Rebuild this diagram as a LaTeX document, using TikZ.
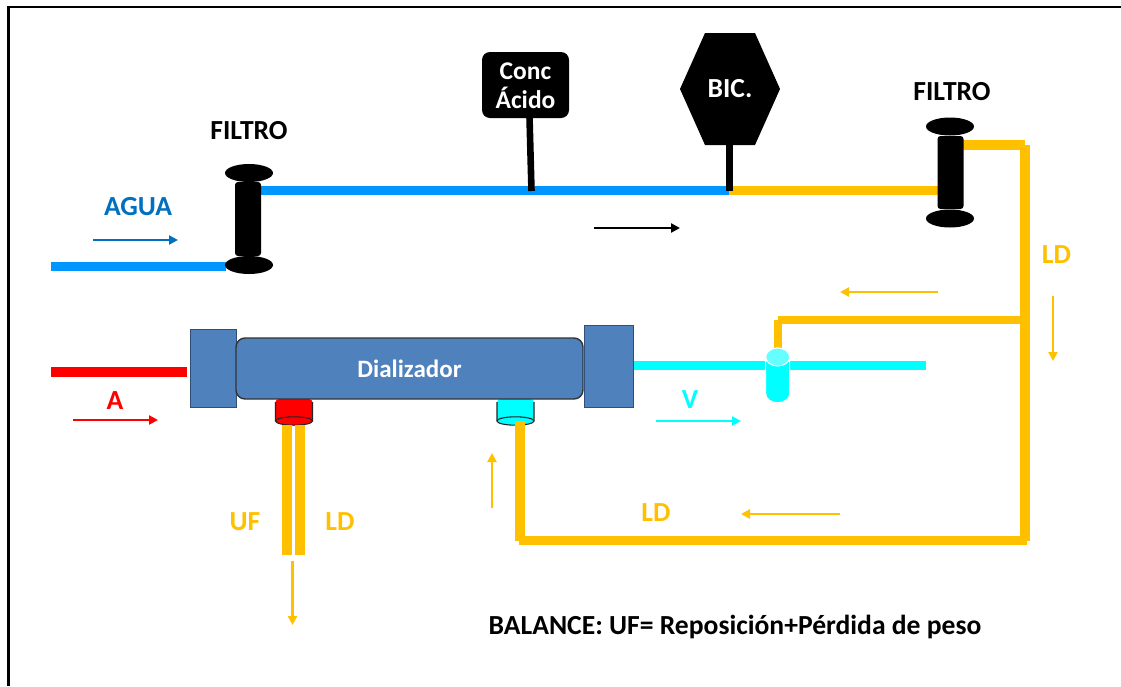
\documentclass[tikz,border=0pt]{standalone}
\usepackage{fontspec}
\setmainfont{Carlito}
\usetikzlibrary{arrows.meta,shapes.geometric}
\definecolor{pipeblue}{HTML}{0096FF}
\definecolor{pipegold}{HTML}{FFC000}
\definecolor{labelblue}{HTML}{0070C0}
\definecolor{dialblue}{HTML}{4F81BD}
\definecolor{dialedge}{HTML}{2F4F78}
\definecolor{pipecyan}{HTML}{00FFFF}
\definecolor{capcyan}{HTML}{66FFFF}
\definecolor{purered}{HTML}{FF0000}
\tikzset{
  pipe/.style={line width=9.4pt,line cap=butt,line join=miter},
  flow/.style={line width=2.5pt,-{Triangle[length=9pt,width=9pt]}},
  lbl/.style={inner sep=0pt,font=\fontsize{27.6}{30}\selectfont\bfseries},
  endcap/.style={ellipse,fill=black,draw=none,minimum width=48pt,minimum height=18pt,inner sep=0pt},
  filterbody/.style={rectangle,rounded corners=3pt,fill=black,draw=none,minimum width=26pt,minimum height=74pt,inner sep=0pt},
  block/.style={rectangle,fill=dialblue,draw=dialedge,line width=1pt,inner sep=0pt},
  port/.style={draw=black!85,line width=1.1pt},
}
\newcommand{\portcyl}[2]{% centre x, fill colour
  \fill[#2] (#1-18.5,402) -- (#1-18.5,421) arc[start angle=180,end angle=0,x radius=18.5,y radius=4.2] -- (#1+18.5,402) arc[start angle=0,end angle=-90,x radius=4,y radius=3] -- (#1-14.5,399) arc[start angle=-90,end angle=-180,x radius=4,y radius=3] -- cycle;
  \draw[port] (#1-18.5,402) -- (#1-18.5,421) arc[start angle=180,end angle=0,x radius=18.5,y radius=4.2] -- (#1+18.5,402);
  \draw[port] (#1-18.5,421) arc[start angle=180,end angle=360,x radius=18.5,y radius=4.2];
}
\begin{document}
\begin{tikzpicture}[x=1pt,y=-1pt]
\useasboundingbox (0,0) rectangle (1121,686);
\fill[white] (0,0) rectangle (1121,686);
\draw[line width=2.6pt,line join=miter] (8.5,686) -- (8.5,7) -- (1121,7);

% coordinates of pipe ends
\coordinate (agua0) at (51,266.5);
\coordinate (aguaF) at (226,266.5);
\coordinate (blue0) at (259,190.5);
\coordinate (junc) at (729,190.5);
\coordinate (goldF) at (940,190.5);
\coordinate (goldO) at (961,145);
\coordinate (c1h) at (1025,145);
\coordinate (c1v) at (1025,145);
\coordinate (c2v) at (1025,541);
\coordinate (c2h) at (1027,540.5);
\coordinate (c3h) at (519,540.5);
\coordinate (c3v) at (520,541);
\coordinate (c4) at (520,421);
\coordinate (b1) at (1025,320);
\coordinate (b2h) at (778,320);
\coordinate (b2v) at (778,319.5);
\coordinate (b3) at (778,352);
\coordinate (red0) at (51,372);
\coordinate (red1) at (187,372);
\coordinate (cy0) at (632,365.5);
\coordinate (cy1) at (926,365.5);
\coordinate (uf0) at (287,425);
\coordinate (uf1) at (287,554.5);
\coordinate (ld0) at (300,425);
\coordinate (ld1) at (300,554.5);

% dialyzer ports below the pipes
\portcyl{294}{purered}
\portcyl{515.5}{pipecyan}

\draw[pipe,pipeblue] (agua0) -- (aguaF);
\draw[pipe,pipeblue] (blue0) -- (junc);
\draw[pipe,pipegold] (junc) -- (goldF);
\draw[pipe,pipegold] (goldO) -- (c1h);
\draw[pipe,pipegold] (c1v) -- (c2v);
\draw[pipe,pipegold] (c2h) -- (c3h);
\draw[pipe,pipegold] (c3v) -- (c4);
\draw[pipe,pipegold,line width=8pt] (b1) -- (b2h);
\draw[pipe,pipegold,line width=8pt] (b2v) -- (b3);
\draw[pipe,purered] (red0) -- (red1);
\draw[pipe,pipecyan] (cy0) -- (cy1);
\draw[pipe,pipegold] (uf0) -- (uf1);
\draw[pipe,pipegold] (ld0) -- (ld1);

% venous chamber
\fill[pipecyan,draw=white,line width=1pt] (765.7,357) -- (765.7,393.7) arc[start angle=180,end angle=0,x radius=12,y radius=9] -- (789.7,357) arc[start angle=0,end angle=-180,x radius=12,y radius=9] -- cycle;
\fill[capcyan,draw=white,line width=1pt] (777.7,357) ellipse[x radius=12,y radius=9];

% filters
\node[endcap] (fl1) at (249,173) {};
\node[filterbody] (fl2) at (248,219) {};
\node[endcap] (fl3) at (249,265) {};
\node[endcap] (fr1) at (950,126.5) {};
\node[filterbody,minimum height=73pt] (fr2) at (950.5,172.5) {};
\node[endcap] (fr3) at (950,218.5) {};
\node[lbl] (tfl) at (249,130.5) {FILTRO};
\node[lbl] (tfr) at (952,91.5) {FILTRO};

% concentrates
\node[rectangle,rounded corners=8pt,fill=black,minimum width=87pt,minimum height=66pt,inner sep=0pt] (conc) at (525.5,85) {};
\node[white,inner sep=0pt,align=center,font=\fontsize{25.5}{29}\selectfont\bfseries] (conct) at (525.5,85.5) {Conc\\Ácido};
\coordinate (concS) at (529.5,117);
\coordinate (concE) at (531.5,191);
\draw[line width=6.6pt] (concS) -- (concE);
\fill[black] (680,89) -- (705,33) -- (755,33) -- (780,89) -- (755,145) -- (705,145) -- cycle;
\node[lbl,white] (bict) at (730,88.5) {BIC.};
\coordinate (bicS) at (729,144);
\coordinate (bicE) at (729,191);
\draw[line width=7pt] (bicS) -- (bicE);

% dialyzer
\node[block,minimum width=46pt,minimum height=78pt] (bl) at (213,368) {};
\node[block,minimum width=49pt,minimum height=82pt] (br) at (608.5,366) {};
\node[rectangle,rounded corners=9pt,fill=dialblue,draw=black!80,line width=1.4pt,minimum width=347pt,minimum height=61pt,inner sep=0pt,text=white,font=\fontsize{25}{28}\selectfont\bfseries] (dial) at (409.5,368.5) {Dializador};

% flow arrows
\coordinate (a1s) at (93,240); \coordinate (a1e) at (178,240);
\draw[flow,labelblue] (a1s) -- (a1e);
\coordinate (a2s) at (594,228); \coordinate (a2e) at (680,228);
\draw[flow,black] (a2s) -- (a2e);
\coordinate (a3s) at (73,420); \coordinate (a3e) at (158,420);
\draw[flow,purered] (a3s) -- (a3e);
\coordinate (a4s) at (656,421); \coordinate (a4e) at (741,421);
\draw[flow,pipecyan] (a4s) -- (a4e);
\coordinate (a5s) at (938,292); \coordinate (a5e) at (840,292);
\draw[flow,pipegold] (a5s) -- (a5e);
\coordinate (a6s) at (840,514); \coordinate (a6e) at (741,514);
\draw[flow,pipegold] (a6s) -- (a6e);
\coordinate (a7s) at (1053,296); \coordinate (a7e) at (1053,361);
\draw[flow,pipegold] (a7s) -- (a7e);
\coordinate (a8s) at (492,508); \coordinate (a8e) at (492,453);
\draw[flow,pipegold] (a8s) -- (a8e);
\coordinate (a9s) at (292.5,561); \coordinate (a9e) at (292.5,625);
\draw[flow,pipegold] (a9s) -- (a9e);

% labels
\node[lbl,labelblue] (tagua) at (138,206.5) {AGUA};
\node[lbl,purered] (ta) at (115,401) {A};
\node[lbl,pipecyan] (tv) at (690,400) {V};
\node[lbl,pipegold] (tuf) at (245,521.5) {UF};
\node[lbl,pipegold] (tld1) at (340,521.5) {LD};
\node[lbl,pipegold] (tld2) at (656,512.5) {LD};
\node[lbl,pipegold] (tld3) at (1056.5,254.5) {LD};
\node[lbl] (tbal) at (735,627) {BALANCE: UF= Reposición+Pérdida de peso};
\end{tikzpicture}
\end{document}
